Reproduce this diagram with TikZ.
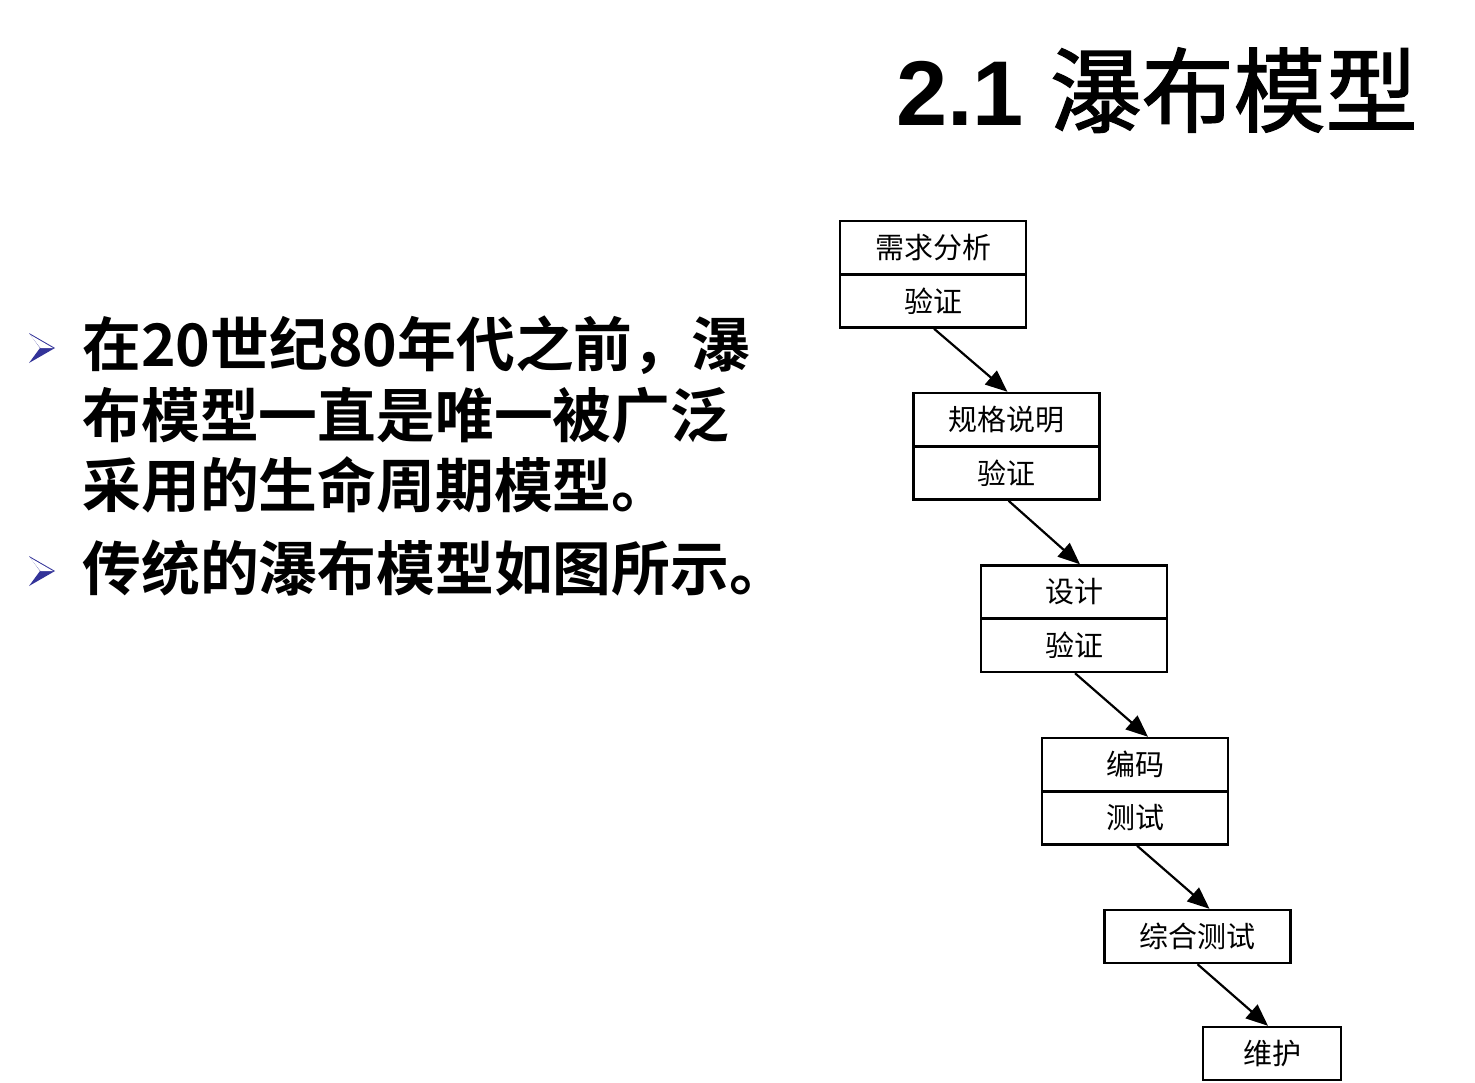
\documentclass[tikz,border=0pt]{standalone}
\usepackage{fontspec}
\usetikzlibrary{arrows.meta,calc}
\setmainfont{Liberation Sans}
\newfontfamily\cjk{Noto Sans CJK SC}
\newfontfamily\cjkb{Noto Sans CJK SC Bold}
\newfontfamily\cjkt[BoldFont={Noto Sans CJK SC},BoldFeatures={FakeBold=1.5}]{Noto Sans CJK SC}
\definecolor{bulletblue}{RGB}{51,51,153}
\tikzset{
  stagebox/.style={draw=black, line width=1.2pt, minimum width=93pt, minimum height=26.5pt, inner sep=0pt, font=\cjk\fontsize{14.5}{16}\selectfont},
  flow/.style={line width=1.1pt, -{Triangle[length=11pt,width=9pt]}},
  bullettext/.style={anchor=west, inner sep=0pt, font=\cjkb\fontsize{29.4}{35}\selectfont, align=left}
}
\begin{document}
\begin{tikzpicture}[x=0.5pt, y=-0.5pt]
\useasboundingbox (0,0) rectangle (1475,1082);
\fill[white] (0,0) rectangle (1475,1082);

% title
\node[anchor=base east, inner sep=0pt] (title) at (1418,125) {\fontsize{46}{50}\selectfont\bfseries 2.1 {\cjkt\bfseries 瀑布模型}};

% bullets
\fill[bulletblue] (29,333) -- (55,348) -- (29,363) -- (40,348) -- cycle;
\fill[white] (29.8,334.6) -- (53,348) -- (40.5,348) -- cycle;

\fill[bulletblue] (29,556) -- (55,571) -- (29,586) -- (40,571) -- cycle;
\fill[white] (29.8,557.6) -- (53,571) -- (40.5,571) -- cycle;

\node[bullettext] (t1) at (82,345) {在20世纪80年代之前，瀑};
\node[bullettext] (t2) at (82,415) {布模型一直是唯一被广泛};
\node[bullettext] (t3) at (82,485) {采用的生命周期模型。};
\node[bullettext] (t4) at (82,568) {传统的瀑布模型如图所示。};

% boxes
\node[stagebox] (b1a) at (933,247.5) {需求分析};
\node[stagebox] (b1b) at (933,301) {验证};
\node[stagebox] (b2a) at (1006.5,419.5) {规格说明};
\node[stagebox] (b2b) at (1006.5,473) {验证};
\node[stagebox] (b3a) at (1074,592) {设计};
\node[stagebox] (b3b) at (1074,645.5) {验证};
\node[stagebox] (b4a) at (1135,764.5) {编码};
\node[stagebox] (b4b) at (1135,818) {测试};
\node[stagebox] (b5) at (1197.5,936.5) {综合测试};
\node[stagebox, minimum width=69pt] (b6) at (1272,1053.5) {维护};

% arrows
\draw[flow] ($(b1b.south)+(1,0)$) -- ($(b2a.north)+(1,0)$);
\draw[flow] ($(b2b.south)+(2,0)$) -- ($(b3a.north)+(6,0)$);
\draw[flow] ($(b3b.south)+(1,0)$) -- ($(b4a.north)+(13,0)$);
\draw[flow] ($(b4b.south)+(2,0)$) -- ($(b5.north)+(12,0)$);
\draw[flow] ($(b5.south)+(0,0)$) -- ($(b6.north)+(-4,0)$);
\end{tikzpicture}
\end{document}
